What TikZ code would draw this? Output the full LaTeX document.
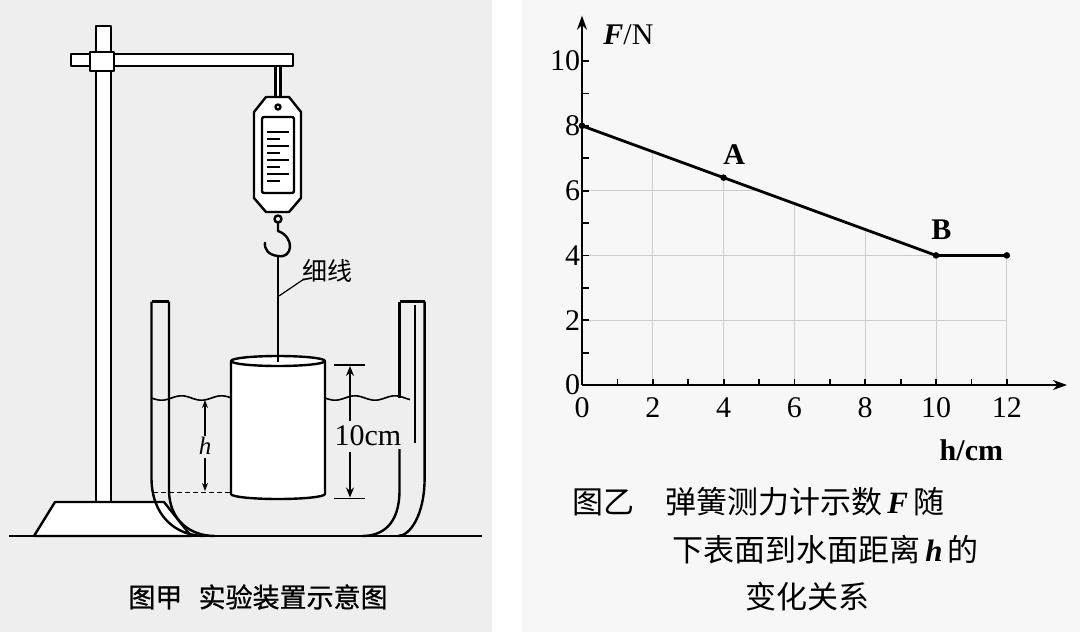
\documentclass[tikz,border=0pt]{standalone}
\usepackage{fontspec}
\usetikzlibrary{arrows.meta}
\setmainfont{Liberation Serif}
\newfontfamily\cjk{Noto Sans CJK SC}
\newfontfamily\cjkm[UprightFeatures={FakeBold=0.8}]{Noto Sans CJK SC}
\begin{document}
\begin{tikzpicture}[x=1pt,y=-1pt,line join=round,
  ln/.style={line width=2.4pt,black},
  gridl/.style={line width=1pt,gray!40},
  num/.style={font=\fontsize{30}{30}\selectfont,inner sep=1pt}]
\useasboundingbox (0,0) rectangle (1080,632);
\fill[white] (0,0) rectangle (1080,632);
\fill[gray!13] (0,0) rectangle (492,632);
\fill[gray!6] (522,0) rectangle (1080,632);
% ---- stand
\draw[ln,fill=white] (96,26) rectangle (111,502);
\draw[ln,fill=white] (71,54) rectangle (293,66);
\draw[ln,fill=white] (90,52) rectangle (114,71);
\draw[ln,fill=white] (55,502) -- (164,502) -- (191,536) -- (34,536) -- cycle;
% ---- spring scale
\draw[ln,fill=white] (275.5,66) rectangle (280.5,97);
\draw[ln,fill=white] (254,112)--(266,97)--(289,97)--(301,112)--(301,198)--(289,212)--(266,212)--(254,198)--cycle;
\draw[ln] (278,107) circle (2.5);
\draw[ln,rounded corners=2pt] (262,117) rectangle (294,193);
\foreach \yy/\l in {132/1,139/0,146/1,153/0,160/1,167/0,174/1,181/0}{
  \ifnum\l=1 \draw[line width=1.4pt] (267,\yy)--(289,\yy); \else \draw[line width=1.4pt] (267,\yy)--(280,\yy);\fi}
\draw[ln] (278,219) circle (3.5);
\draw[ln] (278,223) -- (278,231) .. controls (295,237) and (293,259) .. (278,256) .. controls (269,255) and (264,250) .. (265,242);
% string
\draw[line width=1.6pt] (278,256) -- (278,361);
\node[font=\cjk\fontsize{25}{25}\selectfont,anchor=west,inner sep=0] (lbl) at (302,271) {细线};
\draw[line width=1.2pt] (279,296) -- (304,279);
% ---- tank
\draw[ln] (151.5,301.5) -- (169,301.5);
\draw[ln] (399.5,301.5) -- (424.6,301.5);
\draw[ln] (151.5,301.5) -- (151.5,478) .. controls (151.5,515) and (175,536) .. (205,536);
\draw[ln] (169,301.5) -- (169,490) .. controls (169,520) and (190,536) .. (215,536);
\draw[ln] (424.6,301.5) -- (424.6,478) .. controls (424.6,515) and (410,536) .. (398,536);
\draw[ln] (399.5,301.5) -- (399.5,398);
\draw[ln] (399.5,449) -- (399.5,490) .. controls (399.5,525) and (382,536) .. (362,536);
\draw[line width=1.1pt] (415,305) -- (415,443);
% ground
\draw[ln] (9,536) -- (482,536);
% water
\draw[line width=1.6pt,domain=151.5:231,samples=60] plot (\x,{398+2.2*sin((\x-151.5)*9)});
\draw[line width=1.6pt,domain=325:410,samples=60] plot (\x,{398+2.2*sin((\x-325)*9)});
% cylinder
\draw[ln,fill=white] (231,361) -- (231,494) arc[start angle=180,end angle=360,x radius=47,y radius=-5] -- (325,361);
\draw[ln,fill=white] (278,361) ellipse[x radius=47,y radius=5];
\draw[line width=1.6pt] (278,256) -- (278,362);
\draw[line width=1.4pt,dash pattern=on 5pt off 3pt] (153,492.5) -- (231,492.5);
% h
\draw[line width=1.3pt,-{Stealth[length=8pt,width=6pt]}] (205,437) -- (205,400);
\draw[line width=1.3pt,-{Stealth[length=8pt,width=6pt]}] (205,458) -- (205,491);
\node[font=\itshape\fontsize{25}{25}\selectfont,fill=gray!13,inner sep=1pt] (hl) at (205,446) {h};
% 10cm
\draw[line width=1.3pt] (334,365) -- (365,365);
\draw[line width=1.3pt] (334,498.6) -- (365,498.6);
\draw[line width=1.5pt,-{Stealth[length=10pt,width=8pt]}] (350,421) -- (350,366);
\draw[line width=1.5pt,-{Stealth[length=10pt,width=8pt]}] (350,452) -- (350,497.5);
\node[font=\fontsize{30}{30}\selectfont,inner sep=0] (tc) at (368,436) {10cm};
\node[font=\cjkm\fontsize{27}{27}\selectfont] (capl) at (258,597) {图甲\hspace{0.6em}实验装置示意图};
% ---- graph
\begin{scope}[shift={(582,385)},x=35.4pt,y=32.4pt]
\begin{scope}
\clip (0,0)--(0,8)--(10,4)--(12,4)--(12,0)--cycle;
\foreach \i in {2,4,...,12} \draw[gridl] (\i,0)--(\i,10);
\foreach \j in {2,4,...,10} \draw[gridl] (0,\j)--(12,\j);
\end{scope}
\draw[line width=2.2pt,-{Stealth[length=14pt,width=10pt]}] (0,0) -- (13.7,0);
\draw[line width=2.2pt,-{Stealth[length=14pt,width=10pt]}] (0,0) -- (0,11.4);
\foreach \i in {1,...,12} \draw[line width=1.8pt] (\i,0)--(\i,0.17);
\foreach \j in {1,...,10} \draw[line width=1.8pt] (0,\j)--(0.2,\j);
\foreach \i in {0,2,...,12} \node[num,anchor=north] at (\i,-0.35) {\i};
\foreach \j in {0,2,...,10} \node[num,anchor=east] at (-0.02,\j) {\j};
\draw[line width=2.8pt] (0,8) coordinate (p0) -- (4,6.4) coordinate (pa) -- (10,4) coordinate (pb) -- (12,4) coordinate (pc);
\foreach \p in {p0,pa,pb,pc} \fill (\p) circle (3.3pt);
\node[font=\bfseries\fontsize{30}{30}\selectfont] (la) at (4.3,7.1) {A};
\node[font=\bfseries\fontsize{30}{30}\selectfont] (lb) at (10.15,4.8) {B};
\node[font=\fontsize{30}{30}\selectfont,anchor=west,inner sep=0] (fn) at (0.6,10.8) {\textit{\textbf{F}}/N};
\node[font=\bfseries\fontsize{30}{30}\selectfont,anchor=east,inner sep=0] (hc) at (11.9,-2) {h/cm};
\end{scope}
\node[font=\cjk\fontsize{31}{31}\selectfont,anchor=west,inner sep=0] at (572,502) {图乙\hspace{1em}弹簧测力计示数\,{\rmfamily\bfseries\itshape F}\,随};
\node[font=\cjk\fontsize{31}{31}\selectfont,anchor=west,inner sep=0] at (672,550) {下表面到水面距离\,{\rmfamily\bfseries\itshape h}\,的};
\node[font=\cjk\fontsize{31}{31}\selectfont,anchor=west,inner sep=0] at (745,597) {变化关系};
\end{tikzpicture}
\end{document}
